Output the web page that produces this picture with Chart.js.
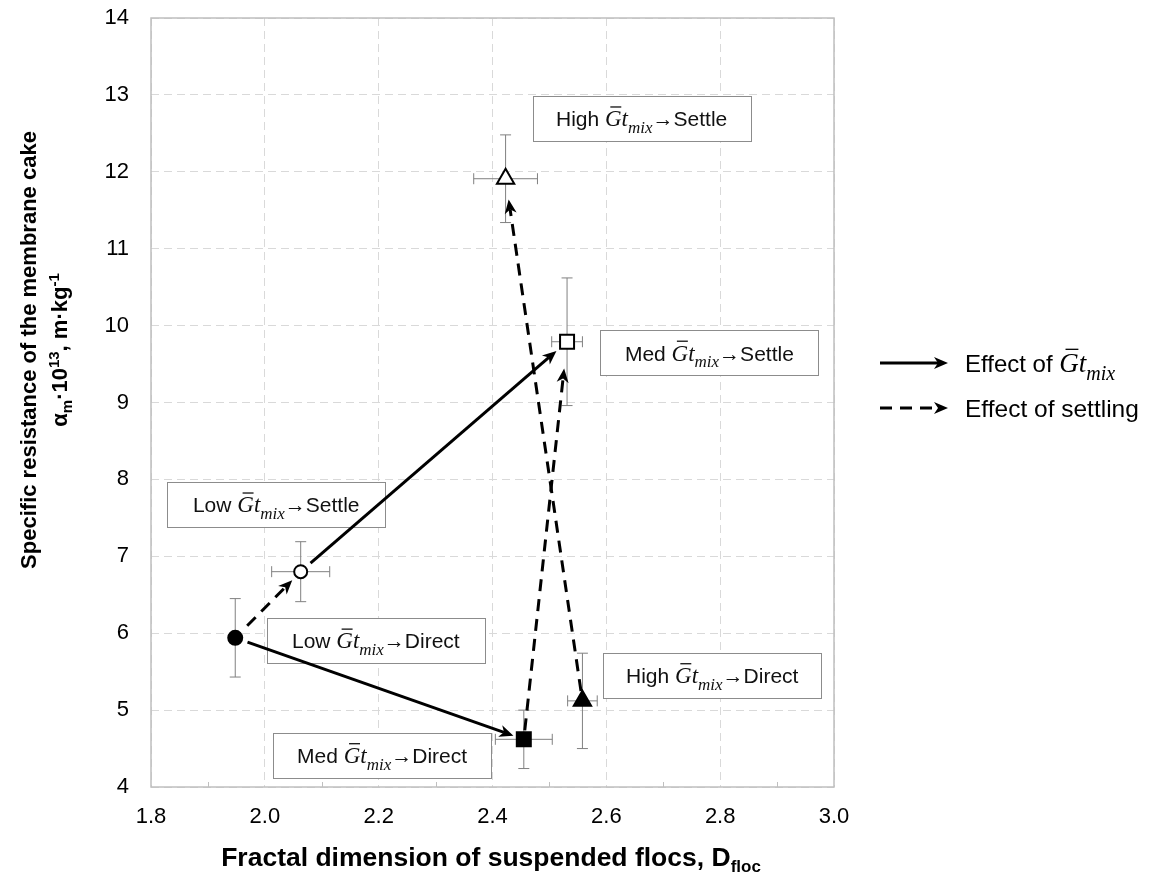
<!DOCTYPE html>
<html>
<head>
<meta charset="utf-8">
<script src="https://cdn.jsdelivr.net/npm/chart.js@4.4.1/dist/chart.umd.min.js"></script>
<style>
  html, body { margin: 0; padding: 0; background: #fff; }
</style>
</head>
<body>
<canvas id="chart" width="1155" height="888"></canvas>
<script>
// data
let names = ['Low Direct', 'Low Settle', 'Med Direct', 'Med Settle', 'High Direct', 'High Settle'];
let dfloc = [1.948, 2.063, 2.455, 2.531, 2.558, 2.423];
let alpha = [5.94, 6.80, 4.62, 9.79, 5.12, 11.91];
let dflocErr = [0, 0.051, 0.050, 0.027, 0.026, 0.056];
let alphaErr = [0.51, 0.39, 0.38, 0.83, 0.62, 0.57];
let xTicks = ['1.8', '2.0', '2.2', '2.4', '2.6', '2.8', '3.0'];

// which point leads to which (solid = effect of Gt, dashed = effect of settling)
let arrowFrom = [0, 1, 0, 2, 4];
let arrowTo = [2, 3, 1, 3, 5];
let arrowDashed = [false, false, true, true, true];

// ---- styling / layout ----
let sans = '"Liberation Sans", Arial, sans-serif';
let serif = '"Liberation Serif", "Times New Roman", serif';
let markerStyle = ['circle', 'circle', 'rect', 'rect', 'triangle', 'triangle'];
let markerRadius = [7, 6.5, 9.9, 9.9, 10, 10];
let markerFill = ['#000', '#fff', '#000', '#fff', '#000', '#fff'];
// gap in px kept free at the start / end of each arrow
let arrowGap = [[13, 11], [13, 14], [17, 12], [9, 27], [10, 21]];
// label boxes: centre in axis units
let boxAt = [[2.195, 5.90], [2.02, 7.67], [2.206, 4.41], [2.781, 9.644], [2.786, 5.45], [2.662, 12.69]];
let boxW = 218, boxH = 45, boxFont = 21;

function mathRuns(size) {
  return [
    {t: 'G', font: `italic ${size}px ${serif}`, bar: size},
    {t: 't', font: `italic ${size}px ${serif}`},
    {t: 'mix', font: `italic ${Math.round(size * 0.74)}px ${serif}`, dy: size * 0.3}
  ];
}

function runsWidth(ctx, runs) {
  let w = 0;
  for (let r of runs) { ctx.font = r.font; w += ctx.measureText(r.t).width; }
  return w;
}

function drawRuns(ctx, runs, x, y) {
  for (let r of runs) {
    ctx.font = r.font;
    let w = ctx.measureText(r.t).width;
    ctx.fillText(r.t, x, y + (r.dy || 0));
    if (r.bar) {
      ctx.save();
      ctx.lineWidth = 1.3;
      ctx.strokeStyle = ctx.fillStyle;
      ctx.beginPath();
      ctx.moveTo(x + w * 0.32, y - r.bar * 0.84);
      ctx.lineTo(x + w * 0.98, y - r.bar * 0.84);
      ctx.stroke();
      ctx.restore();
    }
    x += w;
  }
}

function arrow(ctx, x1, y1, x2, y2, dashed) {
  let ang = Math.atan2(y2 - y1, x2 - x1);
  let len = 14, half = 6, notch = 4;
  let bx = x2 - Math.cos(ang) * (len - notch), by = y2 - Math.sin(ang) * (len - notch);
  ctx.save();
  ctx.strokeStyle = '#000';
  ctx.fillStyle = '#000';
  ctx.lineWidth = 3;
  ctx.setLineDash(dashed ? [12, 8] : []);
  ctx.beginPath();
  ctx.moveTo(x1, y1);
  ctx.lineTo(bx, by);
  ctx.stroke();
  ctx.setLineDash([]);
  let cx = x2 - Math.cos(ang) * len, cy = y2 - Math.sin(ang) * len;
  ctx.beginPath();
  ctx.moveTo(x2, y2);
  ctx.lineTo(cx - Math.sin(ang) * half, cy + Math.cos(ang) * half);
  ctx.lineTo(bx, by);
  ctx.lineTo(cx + Math.sin(ang) * half, cy - Math.cos(ang) * half);
  ctx.closePath();
  ctx.fill();
  ctx.restore();
}

let decorations = {
  id: 'decorations',
  beforeDatasetsDraw(chart) {
    let ctx = chart.ctx, xs = chart.scales.x, ys = chart.scales.y, a = chart.chartArea;
    ctx.save();
    // plot frame
    ctx.strokeStyle = '#bfbfbf';
    ctx.lineWidth = 1.5;
    ctx.strokeRect(a.left, a.top, a.right - a.left, a.bottom - a.top);
    ctx.lineWidth = 1;
    for (let i = 0; i < xTicks.length - 1; i++) {
      let px = Math.round(xs.getPixelForValue(parseFloat(xTicks[i]) + 0.1)) + 0.5;
      ctx.beginPath(); ctx.moveTo(px, a.bottom); ctx.lineTo(px, a.bottom - 5); ctx.stroke();
    }

    // label boxes
    for (let i = 0; i < names.length; i++) {
      let [lvl, step] = names[i].split(' ');
      let cx = xs.getPixelForValue(boxAt[i][0]), cy = ys.getPixelForValue(boxAt[i][1]);
      let x0 = Math.round(cx - boxW / 2) + 0.5, y0 = Math.round(cy - boxH / 2) + 0.5;
      ctx.fillStyle = '#fff';
      ctx.fillRect(x0, y0, boxW, boxH);
      ctx.strokeStyle = '#8c8c8c';
      ctx.lineWidth = 1;
      ctx.strokeRect(x0, y0, boxW, boxH);
      let runs = [{t: lvl + ' ', font: `${boxFont}px ${sans}`}, ...mathRuns(boxFont + 2), {t: '\u2192' + step, font: `${boxFont}px ${sans}`}];
      let w = runsWidth(ctx, runs);
      ctx.fillStyle = '#111';
      ctx.textBaseline = 'alphabetic';
      ctx.textAlign = 'left';
      drawRuns(ctx, runs, cx - w / 2, cy + boxFont * 0.36);
    }

    // error bars
    ctx.strokeStyle = '#808080';
    ctx.lineWidth = 1;
    let cap = 5.5;
    for (let i = 0; i < dfloc.length; i++) {
      let px = xs.getPixelForValue(dfloc[i]), py = ys.getPixelForValue(alpha[i]);
      let t = ys.getPixelForValue(alpha[i] + alphaErr[i]), b = ys.getPixelForValue(alpha[i] - alphaErr[i]);
      ctx.beginPath();
      ctx.moveTo(px, t); ctx.lineTo(px, b);
      ctx.moveTo(px - cap, t); ctx.lineTo(px + cap, t);
      ctx.moveTo(px - cap, b); ctx.lineTo(px + cap, b);
      if (dflocErr[i] > 0) {
        let l = xs.getPixelForValue(dfloc[i] - dflocErr[i]), r = xs.getPixelForValue(dfloc[i] + dflocErr[i]);
        ctx.moveTo(l, py); ctx.lineTo(r, py);
        ctx.moveTo(l, py - cap); ctx.lineTo(l, py + cap);
        ctx.moveTo(r, py - cap); ctx.lineTo(r, py + cap);
      }
      ctx.stroke();
    }

    // arrows between conditions
    for (let k = 0; k < arrowFrom.length; k++) {
      let i = arrowFrom[k], j = arrowTo[k];
      let x1 = xs.getPixelForValue(dfloc[i]), y1 = ys.getPixelForValue(alpha[i]);
      let x2 = xs.getPixelForValue(dfloc[j]), y2 = ys.getPixelForValue(alpha[j]);
      let d = Math.hypot(x2 - x1, y2 - y1), ux = (x2 - x1) / d, uy = (y2 - y1) / d;
      let [g1, g2] = arrowGap[k];
      arrow(ctx, x1 + ux * g1, y1 + uy * g1, x2 - ux * g2, y2 - uy * g2, arrowDashed[k]);
    }
    ctx.restore();
  },
  afterDraw(chart) {
    let ctx = chart.ctx;
    ctx.save();
    ctx.fillStyle = '#000';
    ctx.textAlign = 'left';
    ctx.textBaseline = 'alphabetic';

    // legend
    arrow(ctx, 880, 363, 948, 363, false);
    arrow(ctx, 880, 408, 948, 408, true);
    drawRuns(ctx, [{t: 'Effect of ', font: `24px ${sans}`}, ...mathRuns(27)], 965, 372);
    drawRuns(ctx, [{t: 'Effect of settling', font: `24.5px ${sans}`}], 965, 417);

    // x title
    let xt = [{t: 'Fractal dimension of suspended flocs, D', font: `bold 26.5px ${sans}`}, {t: 'floc', font: `bold 17px ${sans}`, dy: 6}];
    drawRuns(ctx, xt, 491 - runsWidth(ctx, xt) / 2, 866);

    // y title, two lines, rotated
    let bold = `bold 22px ${sans}`, boldSm = `bold 15px ${sans}`;
    let yt1 = [{t: 'Specific resistance of the membrane cake', font: bold}];
    let yt2 = [
      {t: '\u03b1', font: bold}, {t: 'm', font: boldSm, dy: 5},
      {t: '\u00b710', font: bold}, {t: '13', font: boldSm, dy: -8},
      {t: ', m\u00b7kg', font: bold}, {t: '-1', font: boldSm, dy: -8}
    ];
    ctx.save();
    ctx.translate(36, 350);
    ctx.rotate(-Math.PI / 2);
    drawRuns(ctx, yt1, -runsWidth(ctx, yt1) / 2, 0);
    ctx.restore();
    ctx.save();
    ctx.translate(67, 350);
    ctx.rotate(-Math.PI / 2);
    drawRuns(ctx, yt2, -runsWidth(ctx, yt2) / 2, 0);
    ctx.restore();
    ctx.restore();
  }
};

let ctx = document.getElementById('chart').getContext('2d');
let chartObject = new Chart(ctx, {
  type: 'scatter',
  data: {
    datasets: [{
      data: dfloc.map((x, i) => ({x: x, y: alpha[i]})),
      pointStyle: markerStyle,
      pointRadius: markerRadius,
      pointHoverRadius: markerRadius,
      backgroundColor: markerFill,
      borderColor: '#000',
      borderWidth: 2,
      pointHoverBorderWidth: 2
    }]
  },
  options: {
    responsive: false,
    animation: false,
    devicePixelRatio: 1,
    events: [],
    layout: {padding: {left: 0, right: 321, top: 18, bottom: 0}},
    plugins: {legend: {display: false}, tooltip: {enabled: false}},
    scales: {
      x: {
        type: 'linear', min: 1.8, max: 3.0,
        afterBuildTicks: s => { s.ticks = xTicks.map(v => ({value: parseFloat(v)})); },
        ticks: {callback: v => v.toFixed(1), font: {family: sans, size: 22}, color: '#000', padding: 17, maxRotation: 0},
        grid: {color: '#d9d9d9', drawTicks: false, lineWidth: 1},
        border: {display: false, dash: [8, 5]},
        afterFit: s => { s.height = 101; s.paddingLeft = 0; s.paddingRight = 0; }
      },
      y: {
        type: 'linear', min: 4, max: 14,
        ticks: {stepSize: 1, font: {family: sans, size: 22}, color: '#000', padding: 22},
        grid: {color: '#d9d9d9', drawTicks: false, lineWidth: 1},
        border: {display: false, dash: [8, 5]},
        afterFit: s => { s.width = 151; s.paddingTop = 0; s.paddingBottom = 0; }
      }
    }
  },
  plugins: [decorations]
});
</script>
</body>
</html>
